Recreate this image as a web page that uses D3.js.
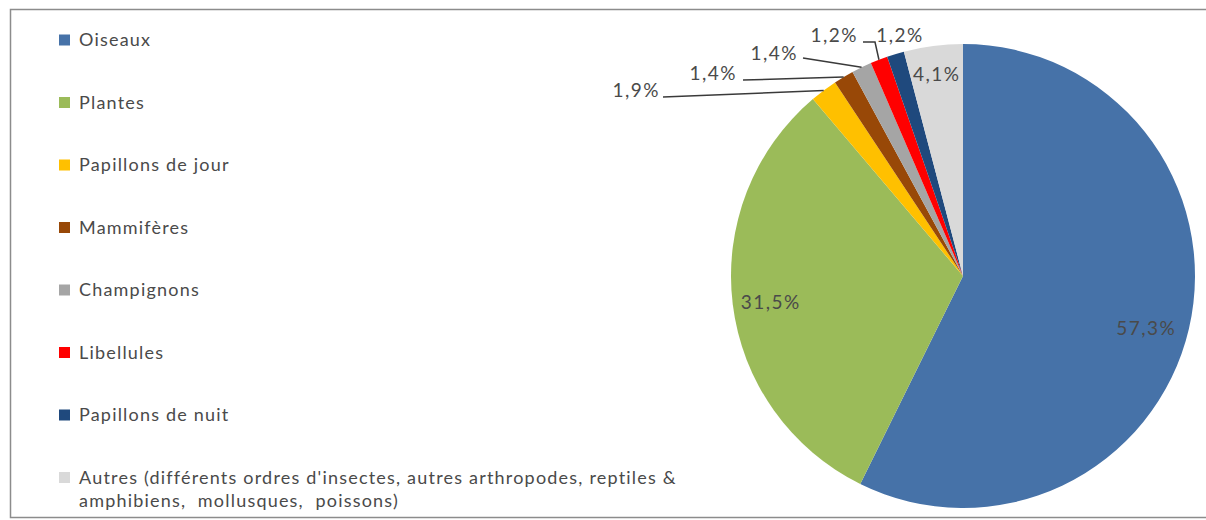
<!DOCTYPE html>
<html>
<head>
<meta charset="utf-8">
<script src="https://cdn.jsdelivr.net/npm/d3@7"></script>
<style>
  html, body { margin: 0; padding: 0; background: #fff; }
  svg { display: block; }
  text { font-family: Lato, "Open Sans", sans-serif; fill: #4a4a4a; white-space: pre; }
</style>
</head>
<body>
<svg id="chart" width="1206" height="520"></svg>
<script>
// Groupes taxonomiques et parts des observations (%)
const categories = [
  "Oiseaux",
  "Plantes",
  "Papillons de jour",
  "Mammifères",
  "Champignons",
  "Libellules",
  "Papillons de nuit",
  "Autres (différents ordres d'insectes, autres arthropodes, reptiles & amphibiens,  mollusques,  poissons)"
];
const shares = [57.3, 31.5, 1.9, 1.4, 1.4, 1.2, 1.2, 4.1];
const colors = ["#4672a8", "#9bbb59", "#ffc000", "#984807", "#a5a5a5", "#ff0000", "#1f497d", "#d9d9d9"];
const legendLines = [
  ["Oiseaux"], ["Plantes"], ["Papillons de jour"], ["Mammifères"],
  ["Champignons"], ["Libellules"], ["Papillons de nuit"],
  ["Autres (différents ordres d'insectes, autres arthropodes, reptiles &", "amphibiens,  mollusques,  poissons)"]
];

const fmt = v => d3.format(".1f")(v).replace(".", ",") + "%";

const svg = d3.select("#chart");

// cadre
svg.append("rect")
  .attr("x", 10.5).attr("y", 9.5)
  .attr("width", 1300).attr("height", 508)
  .attr("fill", "none").attr("stroke", "#8c8c8c").attr("stroke-width", 1.5);

// ---- camembert ----
const cx = 963, cy = 276, R = 232;
const pie = d3.pie().sort(null).value(d => d)(shares);
const arc = d3.arc().innerRadius(0).outerRadius(R);
const g = svg.append("g").attr("transform", `translate(${cx},${cy})`);

g.selectAll("path.slice")
  .data(pie)
  .join("path")
  .attr("class", "slice")
  .attr("d", arc)
  .attr("fill", (d, i) => colors[i]);

// point à l'angle médian d'une part, à la distance r du centre
const edgePoint = (d, r) => {
  const a = (d.startAngle + d.endAngle) / 2;
  return [Math.sin(a) * r, -Math.cos(a) * r];
};

// disposition des étiquettes : "in" = dans la part (fraction du rayon),
// "out" = à l'extérieur, avec ligne de rappel (coordonnées relatives au centre)
const labelLayout = [
  { mode: "in", k: 0.82, dx: -2, dy: 16 },
  { mode: "in", k: 0.835, dx: 0, dy: 9 },
  { mode: "out", tx: -303, ty: -179, line: [[-300, -179]] },
  { mode: "out", tx: -226, ty: -196, line: [[-220, -196]] },
  { mode: "out", tx: -165, ty: -216, line: [[-160, -218]] },
  { mode: "out", tx: -105, ty: -234, line: [[-100, -234], [-88, -234]] },
  { mode: "fixed", ax: -63, ay: -234 },
  { mode: "in", k: 0.88, dx: 0, dy: 7 }
];

const labelSize = 19, legendSize = 18;
pie.forEach((d, i) => {
  const L = labelLayout[i];
  const txt = fmt(shares[i]);
  if (L.mode === "out") {
    const end = edgePoint(d, R);
    g.append("path")
      .attr("d", d3.line()(L.line.concat([end])))
      .attr("fill", "none")
      .attr("stroke", "#3a3a3a")
      .attr("stroke-width", 1.5);
    g.append("text")
      .attr("x", L.tx).attr("y", L.ty)
      .attr("text-anchor", "end")
      .attr("font-size", labelSize)
      .attr("letter-spacing", 1.5)
      .text(txt);
  } else {
    let x, y;
    if (L.mode === "fixed") { x = L.ax; y = L.ay; }
    else {
      const p = edgePoint(d, R * L.k);
      x = p[0] + L.dx; y = p[1] + L.dy;
    }
    g.append("text")
      .attr("x", x).attr("y", y)
      .attr("text-anchor", "middle")
      .attr("font-size", labelSize)
      .attr("letter-spacing", 1.5)
      .text(txt);
  }
});

// ---- légende ----
const rowY = d3.scalePoint()
  .domain(d3.range(categories.length))
  .range([40, 477.5]);

const leg = svg.append("g");
categories.forEach((c, i) => {
  const y = rowY(i);
  leg.append("rect")
    .attr("x", 59).attr("y", y - 5.5)
    .attr("width", 11).attr("height", 11)
    .attr("fill", colors[i]);
  legendLines[i].forEach((line, j) => {
    leg.append("text")
      .attr("x", 79).attr("y", y + 6 + j * 23)
      .attr("font-size", legendSize)
      .attr("letter-spacing", 1.2)
      .text(line);
  });
});
</script>
</body>
</html>
